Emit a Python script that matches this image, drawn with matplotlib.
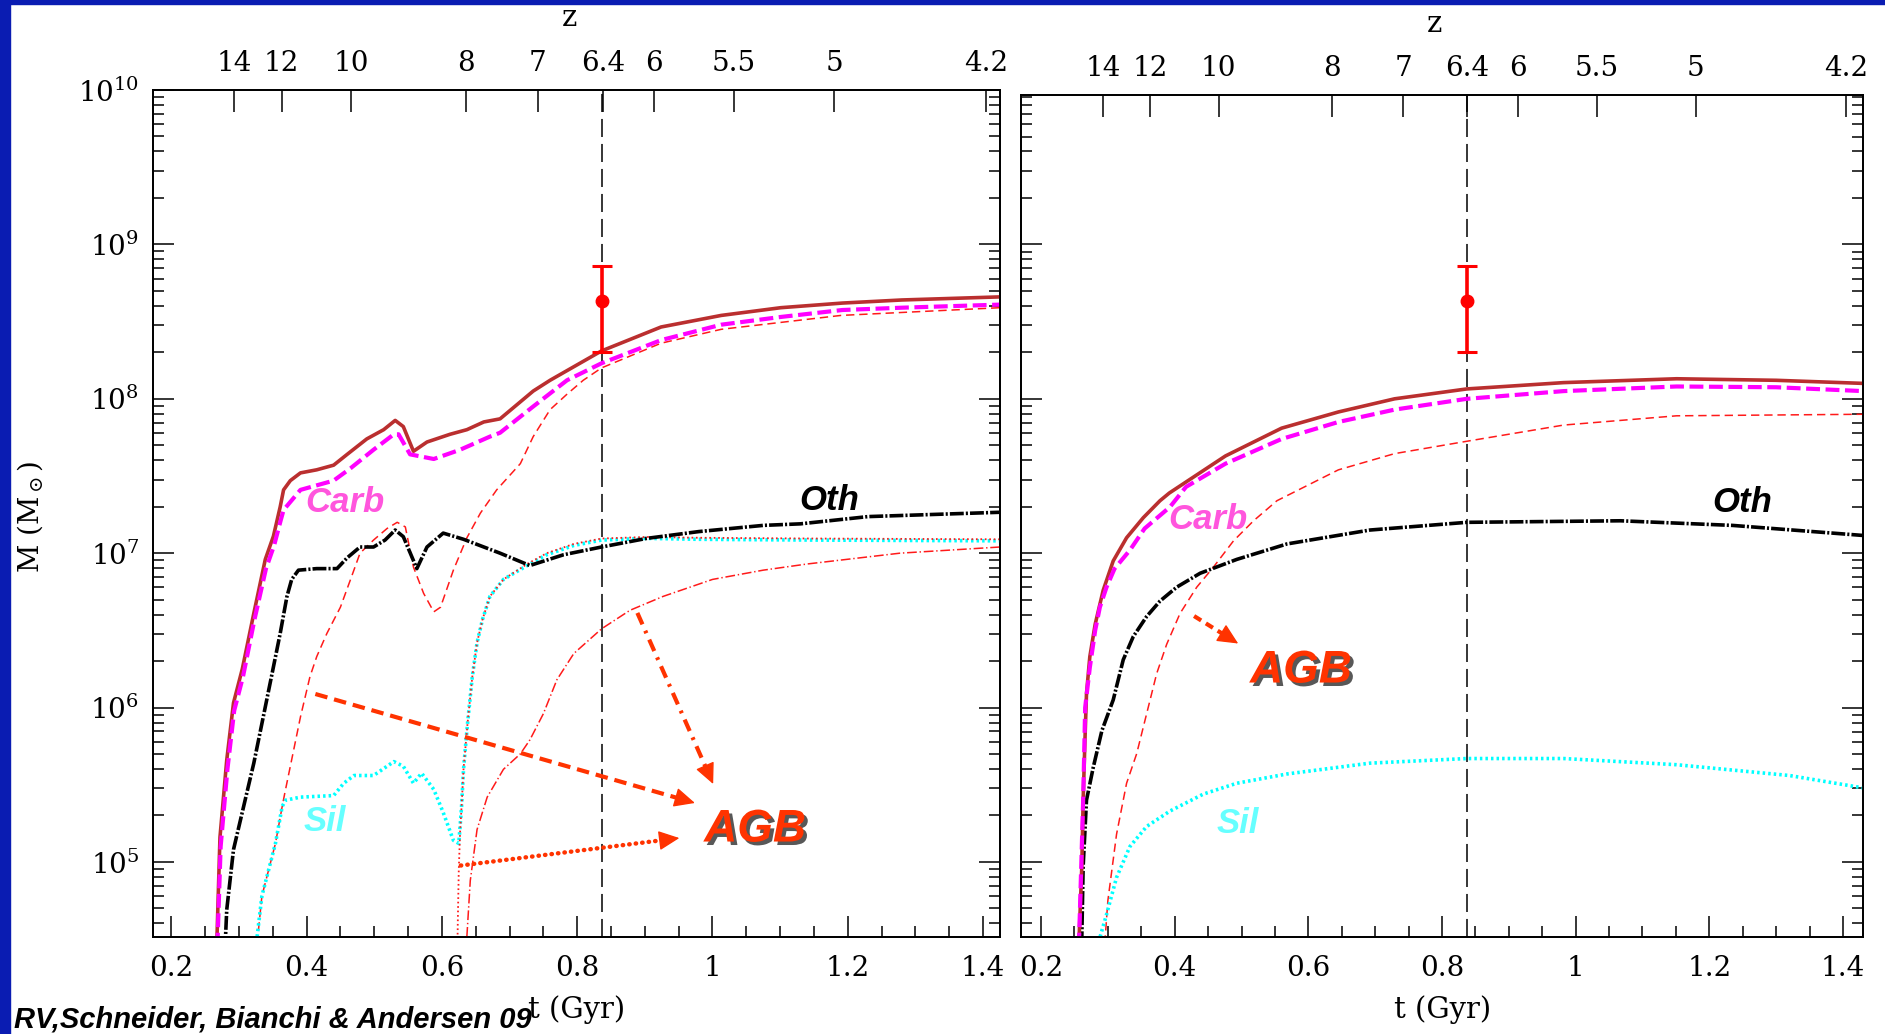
import numpy as np
import matplotlib
matplotlib.use("Agg")
import matplotlib.pyplot as plt
from matplotlib import patheffects as pe
from matplotlib.patches import Rectangle
from matplotlib.ticker import FixedLocator, FixedFormatter, MultipleLocator, LogLocator, NullFormatter, NullLocator

plt.rcParams['font.family'] = ['DejaVu Serif']
plt.rcParams['mathtext.fontset'] = 'dejavuserif'
plt.rcParams['lines.scale_dashes'] = False

# ---------------- data (t in Gyr, log10 of dust mass in Msun) ----------------
# Left panel
L_tot_t = [0.265, 0.2675, 0.272, 0.282, 0.292, 0.305, 0.322, 0.339, 0.351, 0.361, 0.366, 0.376, 0.391, 0.415,
           0.440, 0.460, 0.489, 0.514, 0.531, 0.543, 0.558, 0.578, 0.612, 0.637, 0.662, 0.686, 0.735, 0.76,
           0.80, 0.836, 0.924, 1.013, 1.101, 1.192, 1.28, 1.425]
L_tot_m = [4.2, 4.5, 5.16, 5.66, 6.03, 6.25, 6.61, 6.96, 7.11, 7.30, 7.41, 7.47, 7.52, 7.54, 7.57, 7.64, 7.74,
           7.80, 7.86, 7.82, 7.66, 7.72, 7.77, 7.80, 7.85, 7.87, 8.05, 8.12, 8.22, 8.31, 8.465, 8.54, 8.59,
           8.62, 8.64, 8.66]

L_carb_t = [0.266, 0.2685, 0.273, 0.283, 0.293, 0.306, 0.323, 0.340, 0.352, 0.361, 0.366, 0.391, 0.440, 0.465,
            0.499, 0.529, 0.536, 0.553, 0.588, 0.627, 0.671, 0.686, 0.735, 0.785, 0.836, 0.924, 1.013, 1.101,
            1.192, 1.28, 1.425]
L_carb_m = [4.2, 4.5, 5.1, 5.6, 5.98, 6.2, 6.57, 6.9, 7.05, 7.2, 7.28, 7.41, 7.47, 7.55, 7.67, 7.77, 7.77,
            7.64, 7.61, 7.67, 7.755, 7.78, 7.95, 8.12, 8.23, 8.38, 8.48, 8.53, 8.575, 8.59, 8.61]

L_oth_t = [0.278, 0.282, 0.292, 0.307, 0.322, 0.336, 0.349, 0.361, 0.371, 0.378, 0.388, 0.415, 0.445, 0.46,
           0.479, 0.499, 0.516, 0.531, 0.543, 0.563, 0.578, 0.602, 0.632, 0.662, 0.686, 0.73, 0.78, 0.836,
           0.903, 0.98, 1.075, 1.13, 1.23, 1.425]
L_oth_m = [4.3, 4.69, 5.08, 5.36, 5.64, 5.94, 6.22, 6.48, 6.72, 6.83, 6.89, 6.90, 6.90, 6.97, 7.04, 7.04,
           7.085, 7.15, 7.107, 6.90, 7.04, 7.13, 7.09, 7.04, 7.00, 6.92, 6.99, 7.04, 7.096, 7.14, 7.18, 7.19,
           7.237, 7.265]

L_sil_t = [0.326, 0.327, 0.334, 0.344, 0.354, 0.364, 0.369, 0.391, 0.44, 0.455, 0.47, 0.499, 0.529, 0.543,
           0.558, 0.570, 0.588, 0.602, 0.617, 0.625, 0.629, 0.632, 0.638, 0.645, 0.652, 0.66, 0.671, 0.691,
           0.726, 0.755, 0.795, 0.836, 0.903, 0.977, 1.144, 1.425]
L_sil_m = [4.3, 4.52, 4.78, 4.95, 5.12, 5.36, 5.40, 5.42, 5.43, 5.51, 5.56, 5.56, 5.65, 5.62, 5.51, 5.575,
           5.47, 5.32, 5.14, 5.12, 5.35, 5.6, 5.9, 6.2, 6.42, 6.57, 6.72, 6.83, 6.92, 6.99, 7.05, 7.085, 7.096,
           7.09, 7.085, 7.08]

L_agbc_t = [0.327, 0.328, 0.334, 0.344, 0.354, 0.364, 0.368, 0.376, 0.391, 0.405, 0.415, 0.43, 0.45, 0.465,
            0.479, 0.499, 0.519, 0.534, 0.546, 0.558, 0.573, 0.588, 0.598, 0.617, 0.637, 0.657, 0.681, 0.716,
            0.735, 0.76, 0.785, 0.809, 0.836, 0.924, 1.013, 1.19, 1.425]
L_agbc_m = [4.3, 4.52, 4.78, 4.95, 5.12, 5.36, 5.45, 5.62, 5.94, 6.2, 6.33, 6.48, 6.65, 6.83, 7.0, 7.085,
            7.16, 7.20, 7.17, 6.91, 6.74, 6.62, 6.65, 6.89, 7.1, 7.26, 7.41, 7.58, 7.755, 7.93, 8.03, 8.12,
            8.2, 8.36, 8.45, 8.54, 8.59]

L_agbsil_t = [0.6225, 0.6235, 0.625, 0.627, 0.629, 0.632, 0.638, 0.645, 0.652, 0.66, 0.671, 0.691, 0.726,
              0.755, 0.795, 0.836, 0.903, 0.977, 1.144, 1.425]
L_agbsil_m = [4.3, 4.6, 4.95, 5.2, 5.35, 5.6, 5.9, 6.2, 6.42, 6.57, 6.72, 6.83, 6.93, 7.0, 7.06, 7.095,
              7.105, 7.1, 7.095, 7.09]

L_agboth_t = [0.636, 0.637, 0.642, 0.652, 0.667, 0.691, 0.716, 0.73, 0.75, 0.77, 0.795, 0.836, 0.878, 0.927,
              1.0, 1.075, 1.14, 1.277, 1.425]
L_agboth_m = [4.3, 4.52, 4.88, 5.21, 5.42, 5.60, 5.70, 5.79, 5.96, 6.18, 6.35, 6.51, 6.63, 6.72, 6.83, 6.89,
              6.93, 7.0, 7.04]

# Right panel
R_tot_t = [0.255, 0.257, 0.261, 0.263, 0.266, 0.268, 0.273, 0.281, 0.293, 0.308, 0.328, 0.353, 0.378, 0.392,
           0.476, 0.56, 0.645, 0.729, 0.837, 0.982, 1.151, 1.30, 1.43]
R_tot_m = [4.2, 4.51, 4.97, 5.40, 5.83, 6.09, 6.33, 6.54, 6.76, 6.95, 7.10, 7.23, 7.34, 7.39, 7.63, 7.81,
           7.915, 8.0, 8.064, 8.105, 8.13, 8.12, 8.10]

R_carb_t = [0.2555, 0.257, 0.263, 0.266, 0.273, 0.281, 0.288, 0.298, 0.31, 0.333, 0.355, 0.393, 0.417, 0.476,
            0.56, 0.645, 0.729, 0.837, 0.982, 1.151, 1.30, 1.43]
R_carb_m = [4.2, 4.51, 5.4, 6.0, 6.26, 6.5, 6.65, 6.78, 6.9, 7.02, 7.16, 7.3, 7.43, 7.58, 7.74, 7.85, 7.93,
            8.0, 8.05, 8.08, 8.075, 8.05]

R_oth_t = [0.259, 0.261, 0.263, 0.268, 0.278, 0.291, 0.308, 0.323, 0.338, 0.358, 0.378, 0.403, 0.438, 0.493,
           0.568, 0.692, 0.837, 1.067, 1.235, 1.43]
R_oth_m = [4.2, 4.51, 4.97, 5.40, 5.61, 5.85, 6.05, 6.31, 6.46, 6.59, 6.69, 6.78, 6.87, 6.96, 7.06, 7.15,
           7.20, 7.21, 7.18, 7.115]

R_sil_t = [0.286, 0.288, 0.298, 0.313, 0.333, 0.358, 0.393, 0.443, 0.493, 0.568, 0.692, 0.837, 0.982, 1.151,
           1.32, 1.43]
R_sil_m = [4.3, 4.51, 4.66, 4.90, 5.10, 5.23, 5.33, 5.44, 5.51, 5.57, 5.64, 5.67, 5.67, 5.63, 5.56, 5.48]

R_agbc_t = [0.294, 0.296, 0.30, 0.313, 0.328, 0.343, 0.358, 0.373, 0.388, 0.408, 0.433, 0.458, 0.488, 0.518,
            0.553, 0.645, 0.729, 0.837, 0.982, 1.151, 1.43]
R_agbc_m = [4.3, 4.51, 4.75, 5.18, 5.51, 5.70, 5.96, 6.22, 6.41, 6.61, 6.78, 6.91, 7.08, 7.21, 7.34, 7.54,
            7.645, 7.725, 7.83, 7.89, 7.90]

# Observed dust mass of the z=6.4 quasar (Msun)
obs_t = [0.837]
obs_m = [4.27e8]
obs_lo = [2.0e8]
obs_hi = [7.2e8]

# Axis ticks
x_ticks = [0.2, 0.4, 0.6, 0.8, 1.0, 1.2, 1.4]
x_ticklabels = ['0.2', '0.4', '0.6', '0.8', '1', '1.2', '1.4']
z_labels = ['14', '12', '10', '8', '7', '6.4', '6', '5.5', '5', '4.2']
z_ticks_t = [0.293, 0.363, 0.466, 0.636, 0.742, 0.838, 0.913, 1.032, 1.18, 1.405]

# ---------------- styling ----------------
W, H = 1885, 1034
C_TOT = '#BA2F2F'
C_CARB = '#FF00FF'
C_OTH = 'black'
C_SIL = '#00FFFF'
C_AGB = '#FF1A1A'
C_ARROW = '#FF3300'
BLUE = '#0A1CB2'

fig = plt.figure(figsize=(W / 100, H / 100), dpi=100)
fig.patch.set_facecolor('white')
fig.add_artist(Rectangle((0, 0), 10 / W, 1, transform=fig.transFigure, color=BLUE, zorder=0))
fig.add_artist(Rectangle((0, 1 - 4 / H), 1, 4 / H, transform=fig.transFigure, color=BLUE, zorder=0))

axL = fig.add_axes([153 / W, 97 / H, 847 / W, 847 / H])
axR = fig.add_axes([1021 / W, 97 / H, 842 / W, 842 / H])


def L(arr):
    return 10 ** np.asarray(arr)


def setup(ax, xlim, ylim, ylabels):
    ax.set_xlim(*xlim)
    ax.set_yscale('log')
    ax.set_ylim(*ylim)
    for s in ax.spines.values():
        s.set_linewidth(1.3)
    ax.xaxis.set_major_locator(FixedLocator(x_ticks))
    ax.xaxis.set_major_formatter(FixedFormatter(x_ticklabels))
    ax.xaxis.set_minor_locator(MultipleLocator(0.05))
    ax.yaxis.set_major_locator(LogLocator(base=10, numticks=20))
    ax.yaxis.set_minor_locator(LogLocator(base=10, subs=np.arange(2, 10), numticks=20))
    ax.yaxis.set_minor_formatter(NullFormatter())
    ax.tick_params(axis='both', which='both', direction='in', width=1.1, labelsize=20)
    ax.tick_params(axis='both', which='major', length=15)
    ax.tick_params(axis='both', which='minor', length=8)
    ax.tick_params(axis='x', which='both', bottom=True, top=False, pad=13)
    ax.tick_params(axis='y', which='both', left=True, right=True, labelleft=ylabels, pad=10)
    top = ax.twiny()
    top.set_xlim(*xlim)
    top.xaxis.set_major_locator(FixedLocator(z_ticks_t))
    top.xaxis.set_major_formatter(FixedFormatter(z_labels))
    top.xaxis.set_minor_locator(NullLocator())
    top.tick_params(axis='x', which='major', direction='in', length=16, width=1.1, labelsize=20, pad=9)
    for s in top.spines.values():
        s.set_linewidth(1.3)
    return top


setup(axL, (0.173, 1.425), (10 ** 4.514, 1e10), True)
setup(axR, (0.170, 1.430), (10 ** 4.514, 10 ** 9.968), False)


def draw_common(ax):
    ax.axvline(obs_t[0], color='black', lw=1.1, dashes=(13, 5), zorder=1)
    ax.errorbar(obs_t, obs_m, yerr=[[obs_m[0] - obs_lo[0]], [obs_hi[0] - obs_m[0]]], fmt='o', color='#FF0000',
                ms=9, elinewidth=2.6, capsize=7, capthick=2.2, zorder=6)


# Left panel curves
axL.plot(L_agbc_t, L(L_agbc_m), color=C_AGB, lw=1.1, dashes=(6, 3.5), zorder=3)
axL.plot(L_agboth_t, L(L_agboth_m), color=C_AGB, lw=1.1, dashes=(7, 2, 1, 2), zorder=3)
axL.plot(L_sil_t, L(L_sil_m), color=C_SIL, lw=2.6, dashes=(1.8, 2.2), zorder=4)
axL.plot(L_agbsil_t, L(L_agbsil_m), color=C_AGB, lw=1.3, dashes=(1.2, 2.0), zorder=4)
axL.plot(L_oth_t, L(L_oth_m), color=C_OTH, lw=2.6, dashes=(10, 1.5, 1.5, 1.5), zorder=4)
axL.plot(L_tot_t, L(L_tot_m), color=C_TOT, lw=2.6, zorder=4)
axL.plot(L_carb_t, L(L_carb_m), color=C_CARB, lw=3.0, dashes=(10, 4), zorder=5)
draw_common(axL)

# Right panel curves
axR.plot(R_agbc_t, L(R_agbc_m), color=C_AGB, lw=1.1, dashes=(6, 3.5), zorder=3)
axR.plot(R_sil_t, L(R_sil_m), color=C_SIL, lw=2.6, dashes=(1.8, 2.2), zorder=4)
axR.plot(R_oth_t, L(R_oth_m), color=C_OTH, lw=2.6, dashes=(10, 1.5, 1.5, 1.5), zorder=4)
axR.plot(R_tot_t, L(R_tot_m), color=C_TOT, lw=2.6, zorder=4)
axR.plot(R_carb_t, L(R_carb_m), color=C_CARB, lw=3.0, dashes=(10, 4), zorder=5)
draw_common(axR)

# Labels inside panels
lab = dict(fontsize=25, fontweight='bold', fontstyle='italic', family='Liberation Sans', ha='center',
           va='center', zorder=7)
agb = dict(fontsize=33, fontweight='bold', fontstyle='italic', family='Liberation Sans', ha='center',
           va='center', color=C_ARROW, zorder=8,
           path_effects=[pe.withSimplePatchShadow(offset=(2.5, -2.5), shadow_rgbFace='#202020', alpha=0.75)])

axL.text(0.457, 10 ** 7.33, 'Carb', color='#FF55DD', **lab)
axL.text(0.427, 10 ** 5.26, 'Sil', color='#66FFFF', **lab)
axL.text(1.173, 10 ** 7.34, 'Oth', color='black', **lab)
axL.text(1.063, 10 ** 5.21, 'AGB', **agb)

axR.text(0.45, 10 ** 7.22, 'Carb', color='#FF55DD', **lab)
axR.text(0.495, 10 ** 5.25, 'Sil', color='#66FFFF', **lab)
axR.text(1.25, 10 ** 7.33, 'Oth', color='black', **lab)
axR.text(0.589, 10 ** 6.24, 'AGB', **agb)


def arrow(ax, p0, p1, dashes, lw=3.0, head_px=18.0, cap='butt'):
    x0, y0 = p0[0], 10 ** p0[1]
    x1, y1 = p1[0], 10 ** p1[1]
    d0 = ax.transData.transform((x0, y0))
    d1 = ax.transData.transform((x1, y1))
    v = d1 - d0
    u = v / np.hypot(*v)
    bx, by = ax.transData.inverted().transform(d1 - u * head_px)
    ax.plot([x0, bx], [y0, by], color=C_ARROW, lw=lw, dashes=dashes, dash_capstyle=cap, zorder=7)
    ax.annotate('', xy=(x1, y1), xytext=(bx, by),
                arrowprops=dict(arrowstyle='-|>,head_length=0.72,head_width=0.34', color=C_ARROW, lw=1.0,
                                mutation_scale=18, shrinkA=0, shrinkB=0), zorder=7)


arrow(axL, (0.413, 6.088), (0.974, 5.382), (9, 5))
arrow(axL, (0.889, 6.613), (1.001, 5.505), (9, 5, 2, 5))
arrow(axL, (0.628, 4.977), (0.951, 5.155), (0.3, 4.4), lw=3.2, cap='round')
arrow(axR, (0.429, 6.593), (0.495, 6.415), (6, 4))

# Axis titles
fig.text(30 / W, 1 - 517 / H, r'M (M$_\odot$)', rotation=90, ha='center', va='center', fontsize=20)
fig.text(577 / W, 1 - 1010 / H, 't (Gyr)', ha='center', va='center', fontsize=21)
fig.text(1443 / W, 1 - 1010 / H, 't (Gyr)', ha='center', va='center', fontsize=21)
fig.text(569 / W, 1 - 18 / H, 'z', ha='center', va='center', fontsize=21)
fig.text(1434 / W, 1 - 24 / H, 'z', ha='center', va='center', fontsize=21)

fig.text(14 / W, 1 - 1028 / H, 'RV,Schneider, Bianchi & Andersen 09', ha='left', va='baseline', fontsize=21,
         fontweight='bold', fontstyle='italic', family='Liberation Sans', zorder=10)

fig.savefig('out.png', dpi=100, facecolor='white')
